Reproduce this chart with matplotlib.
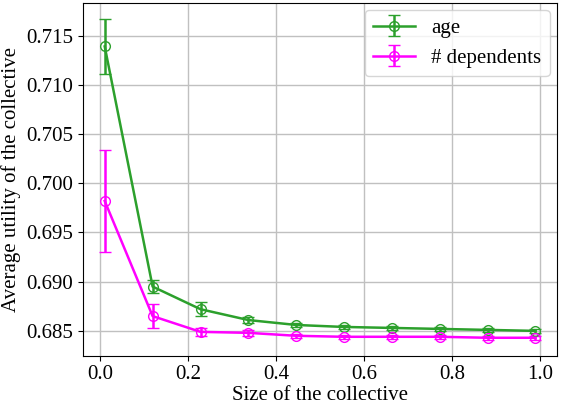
import matplotlib
matplotlib.use("Agg")
import matplotlib.pyplot as plt
import numpy as np

plt.rcParams['font.family'] = ['Liberation Serif', 'DejaVu Serif']
plt.rcParams['mathtext.fontset'] = 'stix'

sizes = [0.01, 0.119, 0.228, 0.337, 0.446, 0.554, 0.663, 0.772, 0.881, 0.99]

age_mean = [0.7139, 0.6895, 0.6872, 0.6861, 0.6856, 0.6854, 0.6853, 0.6852, 0.6851, 0.6850]
age_err = [0.0028, 0.0007, 0.0007, 0.0003, 0.0002, 0.0002, 0.0002, 0.0002, 0.0002, 0.0002]

dep_mean = [0.6982, 0.6865, 0.6849, 0.6848, 0.6845, 0.6844, 0.6844, 0.6844, 0.6843, 0.6843]
dep_err = [0.0052, 0.0012, 0.0004, 0.0003, 0.0002, 0.0002, 0.0002, 0.0002, 0.0002, 0.0002]

fig, ax = plt.subplots(figsize=(5.62, 4.08), dpi=100)

ax.errorbar(sizes, age_mean, yerr=age_err, color='tab:green', marker='o',
            mfc='none', ms=7, capsize=4, label='age', lw=1.8)
ax.errorbar(sizes, dep_mean, yerr=dep_err, color='#ff00ff', marker='o',
            mfc='none', ms=7, capsize=4, label='# dependents', lw=1.8)

ax.grid(True, color='#c0c0c0', lw=1.0)
ax.set_axisbelow(True)
ax.set_xlabel('Size of the collective', fontsize=15, labelpad=1)
ax.set_ylabel('Average utility of the collective', fontsize=15, labelpad=4)
ax.tick_params(labelsize=15)
ax.legend(loc='upper right', fontsize=15, borderaxespad=0.35)

fig.subplots_adjust(left=0.148, right=0.991, top=0.993, bottom=0.128)
fig.savefig('out.png')
